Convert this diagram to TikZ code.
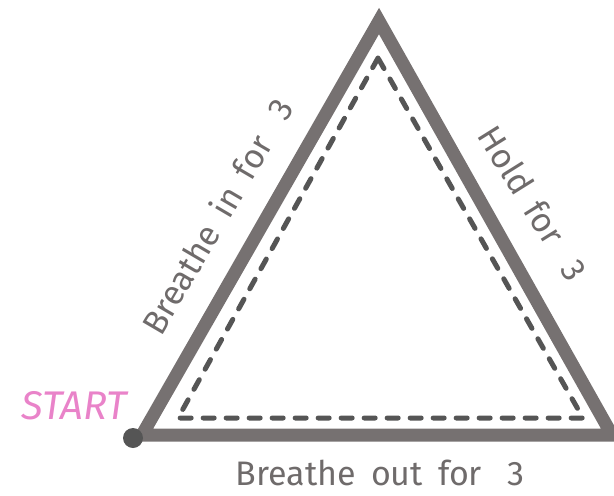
\documentclass[tikz,border=0pt]{standalone}
\usepackage{fontspec}
\setmainfont{Fira Sans}
\definecolor{outergray}{HTML}{767171}
\definecolor{dashgray}{HTML}{555555}
\definecolor{textgray}{HTML}{6F6B6B}
\definecolor{startpink}{HTML}{E983C9}
\newcommand{\wsp}{\hspace{15pt}}
\newcommand{\nsp}{\hspace{25pt}}
\begin{document}
\begin{tikzpicture}[x=1pt,y=-1pt,
  outerline/.style={draw=outergray, line width=13pt, line join=miter},
  dashline/.style={draw=dashgray, line width=5pt, line cap=round, line join=round, dash pattern=on 11pt off 12pt},
  lbl/.style={text=textgray, font=\fontsize{34}{36}\selectfont, inner sep=0pt},
  startlbl/.style={text=startpink, font=\fontsize{40}{42}\selectfont\itshape, inner sep=0pt},
  dot/.style={circle, fill=dashgray, minimum size=20pt, inner sep=0pt}]
\useasboundingbox (0,0) rectangle (614,496);
\coordinate (A) at (379,21);
\coordinate (L) at (142,435);
\coordinate (R) at (612,435);
\coordinate (a) at (378,58);
\coordinate (l) at (178,418);
\coordinate (r) at (583,418);
\draw[outerline] (A) -- (L) -- (R) -- cycle;
\draw[dashline] (a) -- (l) -- (r) -- cycle;
\node[dot] (startdot) at (133,438) {};
\node[startlbl] (start) at (74,406) {START};
\node[lbl, rotate=59.6] (in) at (217,216) {Breathe\wsp in\wsp for\nsp 3};
\node[lbl, rotate=-58] (hold) at (533,203) {Hold\wsp for\nsp 3};
\node[lbl] (out) at (380,473) {Breathe\wsp out\wsp for\nsp 3};
\end{tikzpicture}
\end{document}
